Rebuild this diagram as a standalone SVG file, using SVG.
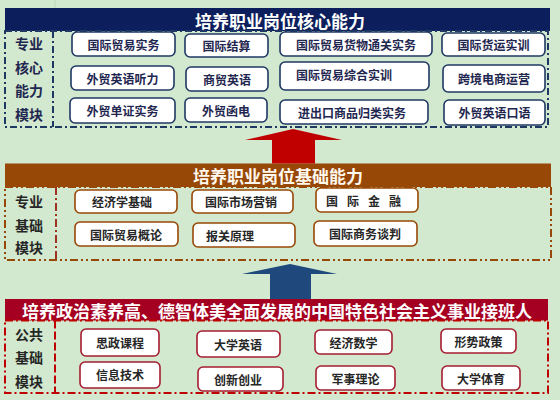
<svg xmlns="http://www.w3.org/2000/svg" width="560" height="400" viewBox="0 0 560 400">
<style>
text{font-family:"Noto Sans CJK SC","Noto Sans",sans-serif;text-anchor:middle;dominant-baseline:central}
.hd{font-size:17px;fill:#ffffff;font-weight:bold}
.lb{font-size:14px;font-weight:bold}
.bx{font-size:12px;font-weight:bold}
.b1 rect{fill:#ffffff;stroke:#1f3864;stroke-width:1.6}
.b1 text{fill:#1f2750}
.b2 rect{fill:#ffffff;stroke:#984806;stroke-width:1.6}
.b2 text{fill:#262626}
.b3 rect{fill:#ffffff;stroke:#a51c30;stroke-width:1.6}
.b3 text{fill:#262626}
.grid{stroke:#bcd6b8;stroke-width:1}
</style>
<rect x="0" y="0" width="560" height="400" fill="#d3e9cf"/>
<g class="grid">
<line x1="55" y1="0" x2="55" y2="8"/>
</g>

<!-- Top module -->
<g id="core-module">
<rect x="5" y="8" width="545" height="23" fill="#0c1f5c"/>
<text class="hd" x="280" y="20">培养职业岗位核心能力</text>
<rect x="5" y="31" width="543" height="96" fill="none" stroke="#1f3864" stroke-width="2" stroke-dasharray="7 3 2 3"/>
<line x1="53" y1="31" x2="53" y2="127" stroke="#1f3864" stroke-width="2" stroke-dasharray="7 3 2 3"/>
<g class="lb" fill="#1f2750">
<text x="29" y="43">专业</text>
<text x="29" y="67">核心</text>
<text x="29" y="90">能力</text>
<text x="29" y="114">模块</text>
</g>
</g>
<g id="n-gjmysw" class="b1 bx"><rect x="72" y="32" width="103" height="24" rx="5"/><text x="123.5" y="44">国际贸易实务</text></g>
<g id="n-gjjs" class="b1 bx"><rect x="185" y="34" width="83" height="23" rx="5"/><text x="226.5" y="45.5">国际结算</text></g>
<g id="n-tgsw" class="b1 bx"><rect x="280" y="32" width="152" height="24" rx="5"/><text x="356" y="44">国际贸易货物通关实务</text></g>
<g id="n-hysx" class="b1 bx"><rect x="442" y="33" width="103" height="23" rx="5"/><text x="493.5" y="44.5">国际货运实训</text></g>
<g id="n-tl" class="b1 bx"><rect x="71" y="66" width="103" height="24" rx="5"/><text x="122.5" y="78">外贸英语听力</text></g>
<g id="n-smyy" class="b1 bx"><rect x="186" y="67" width="82" height="24" rx="5"/><text x="227" y="79">商贸英语</text></g>
<g id="n-zhsx" class="b1 bx"><rect x="280" y="62" width="149" height="28" rx="5"/><text x="344" y="74">国际贸易综合实训</text></g>
<g id="n-kjds" class="b1 bx"><rect x="443" y="65" width="102" height="27" rx="5"/><text x="494" y="78.5">跨境电商运营</text></g>
<g id="n-dzsw" class="b1 bx"><rect x="70" y="98" width="105" height="25" rx="5"/><text x="122.5" y="110.5">外贸单证实务</text></g>
<g id="n-hd" class="b1 bx"><rect x="185" y="98" width="82" height="24" rx="5"/><text x="226" y="110">外贸函电</text></g>
<g id="n-gl" class="b1 bx"><rect x="280" y="100" width="148" height="24" rx="5"/><text x="352" y="112">进出口商品归类实务</text></g>
<g id="n-ky" class="b1 bx"><rect x="444" y="100" width="101" height="25" rx="5"/><text x="494.5" y="112.5">外贸英语口语</text></g>

<!-- Middle module -->
<g id="basic-module">
<rect x="5" y="163.5" width="546" height="23.5" fill="#984806"/>
<text class="hd" x="278" y="175.5" style="fill:#fff8ee">培养职业岗位基础能力</text>
<rect x="5" y="187" width="546" height="73" fill="none" stroke="#984806" stroke-width="2" stroke-dasharray="8 3 2 3 2 3"/>
<line x1="56" y1="187" x2="56" y2="260" stroke="#a0301e" stroke-width="2" stroke-dasharray="8 3 2 3"/>
<g class="lb" fill="#262626">
<text x="29" y="201">专业</text>
<text x="29" y="225">基础</text>
<text x="29" y="247">模块</text>
</g>
</g>
<g id="n-jjxjc" class="b2 bx"><rect x="75" y="190" width="102" height="23" rx="5"/><text x="122" y="201.5">经济学基础</text></g>
<g id="n-scyx" class="b2 bx"><rect x="192" y="190" width="101" height="23" rx="5"/><text x="241" y="201.5">国际市场营销</text></g>
<g id="n-jr" class="b2 bx"><rect x="316" y="188" width="102" height="24" rx="5"/><text x="368" y="200" letter-spacing="9">国际金融</text></g>
<g id="n-gl2" class="b2 bx"><rect x="75" y="222" width="103" height="24" rx="5"/><text x="126" y="234">国际贸易概论</text></g>
<g id="n-bg" class="b2 bx"><rect x="193" y="223" width="102" height="24" rx="5"/><text x="230" y="235">报关原理</text></g>
<g id="n-tp" class="b2 bx"><rect x="314" y="221" width="103" height="25" rx="5"/><text x="365" y="233.5">国际商务谈判</text></g>

<!-- Bottom module -->
<g id="public-module">
<rect x="5" y="299" width="543" height="21.5" fill="#a50021"/>
<text class="hd" x="277" y="310">培养政治素养高、德智体美全面发展的中国特色社会主义事业接班人</text>
<rect x="5" y="320.5" width="543" height="72.5" fill="none" stroke="#c00000" stroke-width="2" stroke-dasharray="8 3 2 3"/>
<line x1="55" y1="320.5" x2="55" y2="393" stroke="#c00000" stroke-width="2" stroke-dasharray="8 3"/>
<g class="lb" fill="#262626">
<text x="29" y="334">公共</text>
<text x="29" y="357">基础</text>
<text x="29" y="381">模块</text>
</g>
</g>
<g id="n-sz" class="b3 bx"><rect x="81" y="329" width="78" height="27" rx="5"/><text x="120" y="342">思政课程</text></g>
<g id="n-dxyy" class="b3 bx"><rect x="197" y="331" width="83" height="26" rx="5"/><text x="238" y="344">大学英语</text></g>
<g id="n-jjsx" class="b3 bx"><rect x="315" y="330" width="77" height="24" rx="5"/><text x="353.5" y="342">经济数学</text></g>
<g id="n-xs" class="b3 bx"><rect x="441" y="329" width="75" height="24" rx="5"/><text x="478.5" y="341">形势政策</text></g>
<g id="n-xx" class="b3 bx"><rect x="80" y="362" width="80" height="26" rx="5"/><text x="120" y="374">信息技术</text></g>
<g id="n-cx" class="b3 bx"><rect x="198" y="367" width="85" height="24" rx="5"/><text x="238" y="379">创新创业</text></g>
<g id="n-js" class="b3 bx"><rect x="316" y="366" width="79" height="24" rx="5"/><text x="355.5" y="378">军事理论</text></g>
<g id="n-ty" class="b3 bx"><rect x="442" y="366" width="78" height="24" rx="5"/><text x="481" y="378">大学体育</text></g>

<!-- Connectors -->
<g id="connectors">
<polygon points="272,163.5 272,140 245,140 293,129 342,140 315,140 315,163.5" fill="#c00000"/>
<polygon points="270,299 270,274 242,274 290,264 337,274 311,274 311,299" fill="#1f497d"/>
</g>
</svg>
